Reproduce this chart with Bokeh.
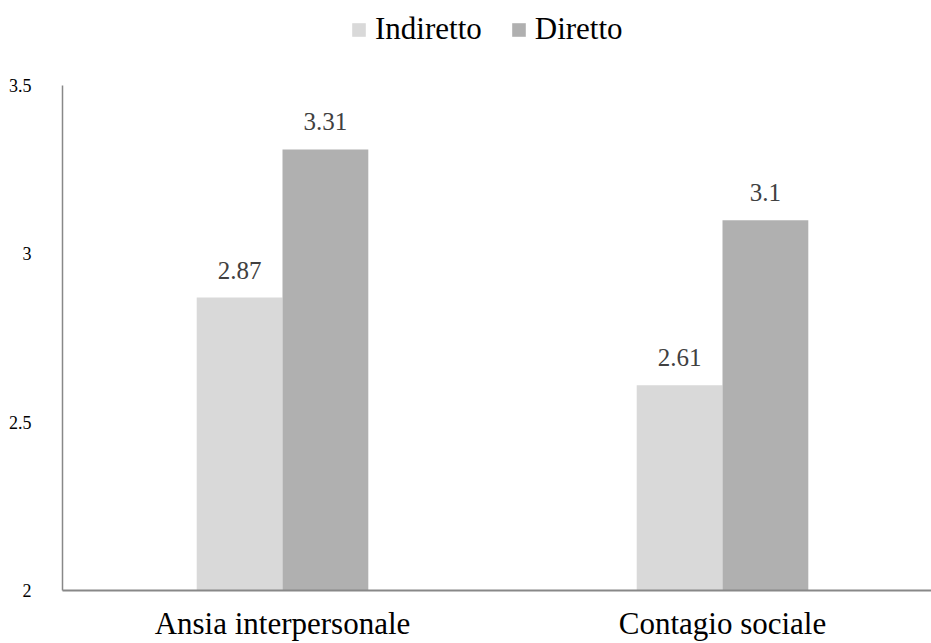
from bokeh.plotting import figure
from bokeh.layouts import column
from bokeh.models import Range1d, FixedTicker, Legend, LegendItem, ColumnDataSource
from bokeh.core.properties import value
from bokeh.embed import file_html
from bokeh.resources import INLINE

categories = ["Ansia interpersonale", "Contagio sociale"]
indiretto = [2.87, 2.61]
diretto = [3.31, 3.1]
series_names = ["Indiretto", "Diretto"]
series_colors = ["#D9D9D9", "#B0B0B0"]
y_ticks = [2, 2.5, 3, 3.5]

FONT = "Liberation Serif"
bar_w = 0.195
centers = [i + 0.5 for i in range(len(categories))]
LEG_H = 60
TOP_PAD = 25

# ---- legend strip ----
lg = figure(width=931, height=LEG_H, output_backend="svg", toolbar_location=None,
            x_axis_type=None, y_axis_type=None, x_range=Range1d(0, 1), y_range=Range1d(0, 1),
            min_border_left=0, min_border_right=0, min_border_top=0, min_border_bottom=0)
lg.outline_line_color = None
lg.xgrid.visible = False
lg.ygrid.visible = False
dummy = ColumnDataSource(dict(x=[-10], top=[-10]))
lr = [lg.vbar(x="x", top="top", bottom=-11, width=0.1, source=dummy,
              fill_color=c, line_color=None) for c in series_colors]
legend = Legend(items=[LegendItem(label=n, renderers=[r]) for n, r in zip(series_names, lr)],
                orientation="horizontal", location=(288, 13),
                label_text_font=FONT, label_text_font_size="31px",
                label_text_color="#000000", glyph_width=17, glyph_height=17,
                label_standoff=8, spacing=28, border_line_color=None,
                background_fill_alpha=0, padding=0, margin=0,
                label_height=17)
lg.add_layout(legend)

# ---- main chart ----
p = figure(width=931, height=643 - LEG_H, output_backend="svg", toolbar_location=None,
           x_range=Range1d(0, 869 / 440), y_range=Range1d(2, 3.5),
           min_border_left=62, min_border_right=0, min_border_top=TOP_PAD, min_border_bottom=51)
p.outline_line_color = None
p.xgrid.visible = False
p.ygrid.visible = False
p.background_fill_color = "white"

src_i = ColumnDataSource(dict(x=[c - bar_w / 2 for c in centers], top=indiretto,
                              lab=[f"{v:g}" for v in indiretto]))
src_d = ColumnDataSource(dict(x=[c + bar_w / 2 for c in centers], top=diretto,
                              lab=[f"{v:g}" for v in diretto]))

p.vbar(x="x", top="top", bottom=2, width=bar_w, source=src_i,
       fill_color=series_colors[0], line_color=None)
p.vbar(x="x", top="top", bottom=2, width=bar_w, source=src_d,
       fill_color=series_colors[1], line_color=None)

for src in (src_i, src_d):
    p.text(x="x", y="top", text="lab", source=src, text_align="center",
           text_baseline="bottom", y_offset=-19, text_font=value(FONT),
           text_font_size="25px", text_color="#404040")

p.xaxis.ticker = FixedTicker(ticks=centers)
p.xaxis.major_label_overrides = {c: n for c, n in zip(centers, categories)}
p.yaxis.ticker = FixedTicker(ticks=y_ticks)
p.yaxis.major_label_overrides = {t: f"{t:g}" for t in y_ticks}

for ax in (p.xaxis, p.yaxis):
    ax.axis_line_color = "#888888"
    ax.axis_line_width = 1.5
    ax.major_tick_line_color = None
    ax.minor_tick_line_color = None
    ax.major_tick_out = 0
    ax.major_label_text_font = FONT
p.xaxis.axis_line_width = 2
p.xaxis.major_label_text_font_size = "31px"
p.xaxis.major_label_text_color = "#000000"
p.xaxis.major_label_standoff = 15
p.yaxis.major_label_text_font_size = "18px"
p.yaxis.major_label_text_color = "#000000"
p.yaxis.major_label_standoff = 31

layout = column(lg, p, spacing=0)
open("out.html", "w").write(file_html(layout, INLINE))
